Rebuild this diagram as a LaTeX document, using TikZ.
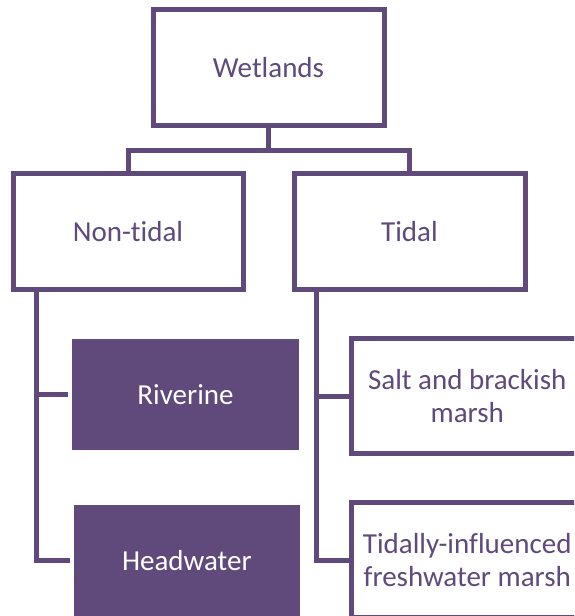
\documentclass[tikz,border=0pt]{standalone}
\usepackage{fontspec}
\setmainfont{Carlito}[Ligatures=NoCommon]
\definecolor{wpurple}{HTML}{5F4A7B}
\tikzset{
  box/.style={draw=wpurple, line width=5pt, fill=white, text=wpurple, outer sep=0pt, inner sep=0pt, align=center, font=\fontsize{29}{33}\selectfont},
  fbox/.style={fill=wpurple, draw=none, text=white, outer sep=0pt, inner sep=0pt, align=center, font=\fontsize{29}{33}\selectfont},
  conn/.style={draw=wpurple, line width=5pt}
}
\begin{document}
\begin{tikzpicture}[x=1pt,y=-1pt]
\useasboundingbox (0,0) rectangle (574,616);
\clip (0,0) rectangle (574,616);
\node[box, minimum width=231pt, minimum height=115.5pt] (wet) at (268.5,67.25) {Wetlands};
\node[box, minimum width=230pt, minimum height=115.5pt] (non) at (128,231.25) {Non-tidal};
\node[box, minimum width=231pt, minimum height=115.5pt] (tid) at (409.5,231.25) {Tidal};
\node[fbox, minimum width=227pt, minimum height=110.7pt] (riv) at (185.5,394.7) {Riverine};
\node[fbox, minimum width=226.3pt, minimum height=110.7pt] (head) at (186.8,560.5) {Headwater};
\node[box, minimum width=231.5pt, minimum height=114.8pt] (salt) at (467.25,396.1) {Salt and brackish\\marsh};
\node[box, minimum width=231.5pt, minimum height=114.8pt] (tfm) at (467.25,560.1) {Tidally-influenced\\freshwater marsh};
% top connectors
\coordinate (j) at (268.5,150);
\draw[conn] (wet.south) -- (j);
\draw[conn] (non.north) |- (j) -| (tid.north);
% non-tidal children
\coordinate (nl) at (36,289);
\coordinate (nr) at (68,394.7);
\coordinate (nh) at (69.5,560.5);
\draw[conn] (nl) |- (nh);
\draw[conn] (nl |- nr) -- (nr);
% tidal children
\coordinate (tl) at (316.7,289);
\draw[conn] (tl) |- (tfm.west);
\draw[conn] (tl |- salt.west) -- (salt.west);
\end{tikzpicture}
\end{document}
